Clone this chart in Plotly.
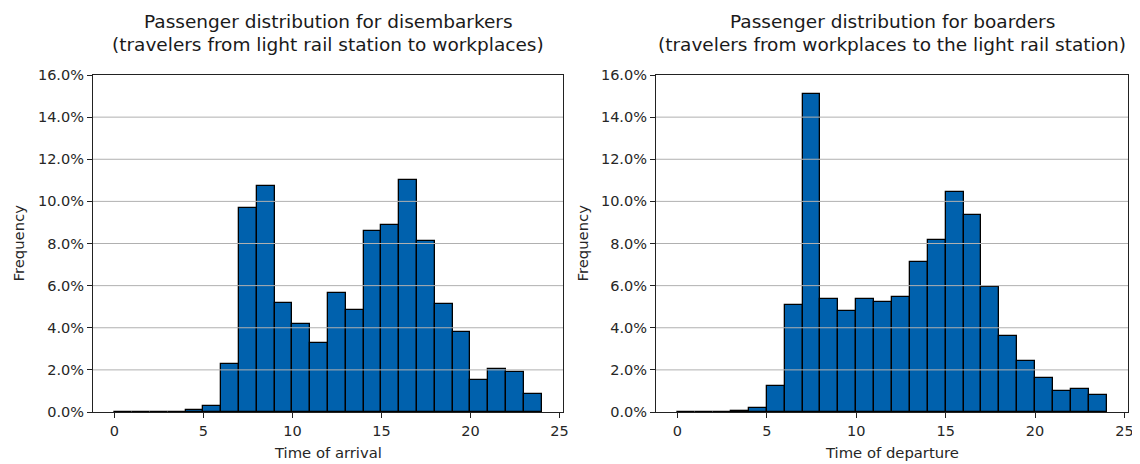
import plotly.graph_objects as go

# Hour bins (left edges, width 1 hour)
bin_start = list(range(24))

# Frequency (%) per hour bin
arrival_pct = [0, 0, 0, 0, 0.08, 0.27, 2.26, 9.70, 10.72, 5.17, 4.16, 3.28,
               5.63, 4.84, 8.58, 8.88, 11.02, 8.14, 5.11, 3.80, 1.53, 2.03, 1.90, 0.87]
departure_pct = [0, 0, 0, 0.06, 0.21, 1.24, 5.07, 15.10, 5.36, 4.78, 5.36, 5.21,
                 5.44, 7.14, 8.17, 10.46, 9.36, 5.93, 3.59, 2.42, 1.61, 1.01, 1.10, 0.80]

y_ticks = [0, 0.02, 0.04, 0.06, 0.08, 0.10, 0.12, 0.14, 0.16]
x_ticks = [0, 5, 10, 15, 20, 25]

titles = [
    ["Passenger distribution for disembarkers",
     "(travelers from light rail station to workplaces)"],
    ["Passenger distribution for boarders",
     "(travelers from workplaces to the light rail station)"],
]
x_titles = ["Time of arrival", "Time of departure"]

# The page body adds an 8 px margin, so the figure is sized to fit the window
OFF = 8
W, H = 1140 - OFF, 464 - OFF


def px_x(p):
    return (p - OFF) / W


def px_y(p):
    return 1 - (p - OFF) / H


doms_x = [[px_x(93), px_x(563)], [px_x(656), px_x(1128)]]
dom_y = [px_y(412), px_y(75)]

FONT = "DejaVu Sans"
BAR = "#0061ad"
fig = go.Figure()

for i, vals in enumerate([arrival_pct, departure_pct]):
    xa = "x" if i == 0 else "x2"
    ya = "y" if i == 0 else "y2"
    fig.add_trace(go.Bar(
        x=[b + 0.5 for b in bin_start],
        y=[v / 100 for v in vals],
        width=1,
        marker=dict(color=BAR, line=dict(color="#000000", width=1.3)),
        xaxis=xa, yaxis=ya, showlegend=False,
        hovertemplate="%{x}: %{y:.1%}<extra></extra>",
    ))

axis_common = dict(
    showline=True, mirror=True, linecolor="#222222", linewidth=1.2,
    ticks="outside", ticklen=5, tickwidth=1, tickcolor="#222222",
    showgrid=False, zeroline=False, automargin=False,
    tickfont=dict(family=FONT, size=14.5, color="#262626"),
)

layout = dict(
    width=W, height=H,
    margin=dict(l=0, r=0, t=0, b=0, pad=0, autoexpand=False),
    paper_bgcolor="white", plot_bgcolor="white",
    font=dict(family=FONT),
    bargap=0,
)
for i in range(2):
    sx = "" if i == 0 else "2"
    layout["xaxis" + sx] = dict(axis_common, domain=doms_x[i], range=[-1.2, 25.2],
                                tickvals=x_ticks, anchor="y" + sx)
    layout["yaxis" + sx] = dict(axis_common, domain=dom_y, range=[0, 0.16],
                                tickvals=y_ticks, tickformat=".1%", anchor="x" + sx)
fig.update_layout(**layout)

shapes = []
annotations = []
for i in range(2):
    sx = "" if i == 0 else "2"
    for v in y_ticks[1:-1]:
        shapes.append(dict(type="line", xref="x" + sx + " domain", yref="y" + sx,
                           x0=0, x1=1, y0=v, y1=v,
                           line=dict(color="#b0b0b0", width=1), layer="above"))
    cx = (doms_x[i][0] + doms_x[i][1]) / 2
    # two-line title
    annotations.append(dict(text=titles[i][0], x=cx, y=px_y(21), xref="paper", yref="paper",
                            xanchor="center", yanchor="middle", showarrow=False,
                            font=dict(family=FONT, size=18.5, color="#1a1a1a")))
    annotations.append(dict(text=titles[i][1], x=cx, y=px_y(45), xref="paper", yref="paper",
                            xanchor="center", yanchor="middle", showarrow=False,
                            font=dict(family=FONT, size=18.5, color="#1a1a1a")))
    # x axis title
    annotations.append(dict(text=x_titles[i], x=cx, y=px_y(452), xref="paper", yref="paper",
                            xanchor="center", yanchor="middle", showarrow=False,
                            font=dict(family=FONT, size=14.8, color="#262626")))
    # y axis title
    yx = [18, 582][i]
    annotations.append(dict(text="Frequency", x=px_x(yx), y=(dom_y[0] + dom_y[1]) / 2,
                            xref="paper", yref="paper", textangle=-90,
                            xanchor="center", yanchor="middle", showarrow=False,
                            font=dict(family=FONT, size=14.8, color="#262626")))

fig.update_layout(shapes=shapes, annotations=annotations)
fig.write_html("out.html")
